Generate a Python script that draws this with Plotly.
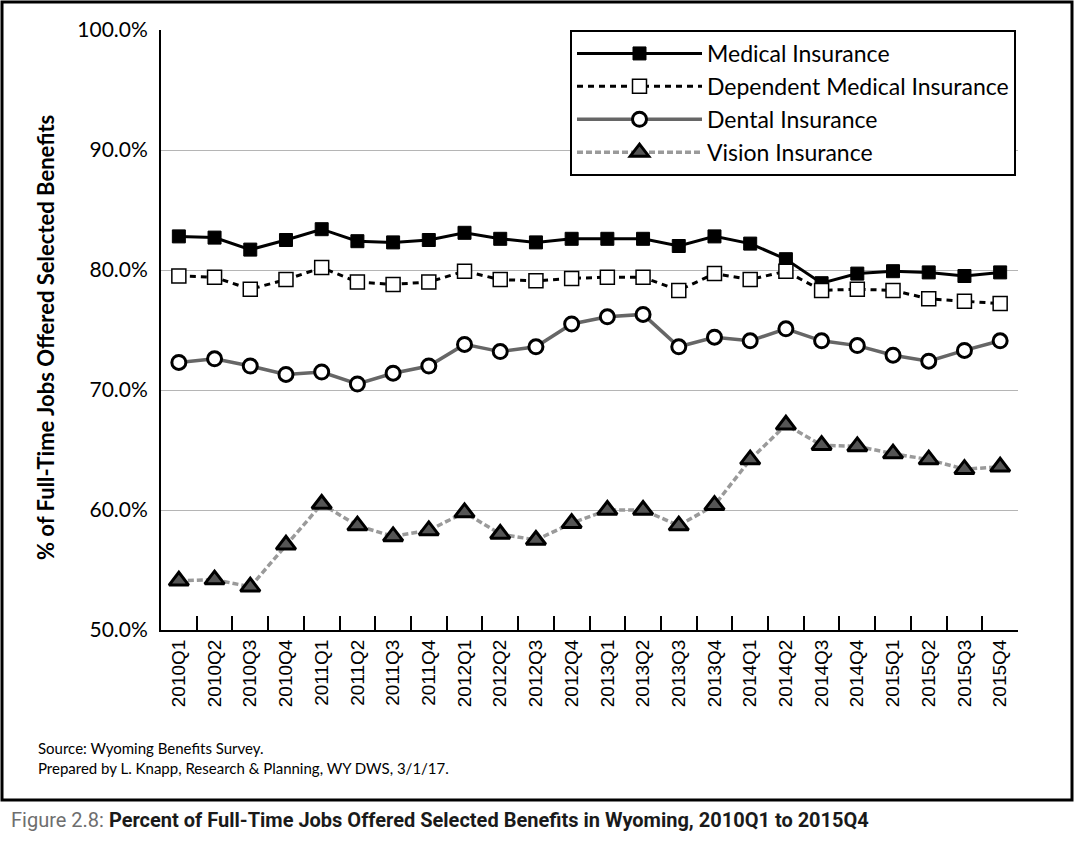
import plotly.graph_objects as go

quarters = ["2010Q1","2010Q2","2010Q3","2010Q4","2011Q1","2011Q2","2011Q3","2011Q4",
            "2012Q1","2012Q2","2012Q3","2012Q4","2013Q1","2013Q2","2013Q3","2013Q4",
            "2014Q1","2014Q2","2014Q3","2014Q4","2015Q1","2015Q2","2015Q3","2015Q4"]

medical = [82.8, 82.7, 81.7, 82.5, 83.4, 82.4, 82.3, 82.5, 83.1, 82.6, 82.3, 82.6,
           82.6, 82.6, 82.0, 82.8, 82.2, 80.9, 78.9, 79.7, 79.9, 79.8, 79.5, 79.8]
dependent = [79.5, 79.4, 78.4, 79.2, 80.2, 79.0, 78.8, 79.0, 79.9, 79.2, 79.1, 79.3,
             79.4, 79.4, 78.3, 79.7, 79.2, 79.9, 78.3, 78.4, 78.3, 77.6, 77.4, 77.2]
dental = [72.3, 72.6, 72.0, 71.3, 71.5, 70.5, 71.4, 72.0, 73.8, 73.2, 73.6, 75.5,
          76.1, 76.3, 73.6, 74.4, 74.1, 75.1, 74.1, 73.7, 72.9, 72.4, 73.3, 74.1]
vision = [54.1, 54.2, 53.6, 57.1, 60.5, 58.7, 57.8, 58.3, 59.8, 58.0, 57.5, 58.9,
          60.0, 60.0, 58.7, 60.4, 64.2, 67.1, 65.4, 65.3, 64.7, 64.2, 63.4, 63.6]

series_names = ["Medical Insurance", "Dependent Medical Insurance", "Dental Insurance", "Vision Insurance"]
y_ticks = [50, 60, 70, 80, 90, 100]

fig = go.Figure()
fig.add_trace(go.Scatter(
    x=quarters, y=medical, name=series_names[0], mode="lines+markers",
    line=dict(color="black", width=3),
    marker=dict(symbol="square", size=13, color="black", line=dict(color="black", width=1))))
fig.add_trace(go.Scatter(
    x=quarters, y=dependent, name=series_names[1], mode="lines+markers",
    line=dict(color="black", width=3, dash="6px,5px"),
    marker=dict(symbol="square", size=14, color="white", line=dict(color="black", width=1.5))))
fig.add_trace(go.Scatter(
    x=quarters, y=dental, name=series_names[2], mode="lines+markers",
    line=dict(color="#666666", width=3.5),
    marker=dict(symbol="circle", size=14, color="white", line=dict(color="black", width=3))))
fig.add_trace(go.Scatter(
    x=quarters, y=vision, name=series_names[3], mode="lines+markers",
    line=dict(color="#9a9a9a", width=3.5, dash="6px,3px"),
    marker=dict(symbol="triangle-up", size=17, color="#555555", line=dict(color="black", width=3))))

L, R, T, B = 161, 57, 30, 212
W, H = 1075, 842
pw, ph = W - L - R, H - T - B

def px(x):
    return (x - L) / pw

def py(y):
    return (H - B - y) / ph

fig.update_layout(
    width=W, height=H,
    margin=dict(l=L, r=R, t=T, b=B),
    paper_bgcolor="white", plot_bgcolor="white",
    font=dict(family="Lato, Open Sans, sans-serif", color="black"),
    showlegend=True,
    legend=dict(
        x=px(570), y=1.0, xanchor="left", yanchor="top",
        bgcolor="white", bordercolor="black", borderwidth=2,
        font=dict(family="Lato, sans-serif", size=23, color="black"),
        itemwidth=125, tracegroupgap=0,
    ),
    xaxis=dict(
        type="category", showgrid=False, showline=True, linecolor="black", linewidth=2,
        ticks="inside", ticklen=14, tickwidth=2, tickcolor="black", tickson="boundaries",
        tickangle=-90, tickfont=dict(family="Liberation Sans, Arial, sans-serif", size=19, color="black"),
        range=[-0.5, len(quarters) - 0.5],
    ),
    yaxis=dict(
        range=[50, 100], tickvals=y_ticks, ticktext=[f"{v:.1f}%" for v in y_ticks],
        showgrid=True, gridcolor="#b5b5b5", gridwidth=1,
        showline=True, linecolor="black", linewidth=2, ticks="",
        ticklabelstandoff=7,
        tickfont=dict(family="Lato, sans-serif", size=21, color="black"),
        zeroline=False,
    ),
    shapes=[dict(type="rect", xref="paper", yref="paper",
                 x0=px(2), x1=px(1072), y0=py(2), y1=py(800),
                 line=dict(color="black", width=3), fillcolor="rgba(0,0,0,0)", layer="below")],
    annotations=[
        dict(text="<b>% of Full-Time Jobs Offered Selected Benefits</b>", textangle=-90,
             xref="paper", yref="paper", x=px(45), y=py(338), showarrow=False,
             xanchor="center", yanchor="middle",
             font=dict(family="Lato, sans-serif", size=22, color="black")),
        dict(text="Source: Wyoming Benefits Survey.<br>Prepared by L. Knapp, Research &amp; Planning, WY DWS, 3/1/17.",
             xref="paper", yref="paper", x=px(36), y=py(758), showarrow=False,
             xanchor="left", yanchor="middle", align="left",
             font=dict(family="Lato, sans-serif", size=15, color="black")),
        dict(text="<span style='color:#6e6e6e'>Figure 2.8:</span> <b>Percent of Full-Time Jobs Offered Selected Benefits in Wyoming, 2010Q1 to 2015Q4</b>",
             xref="paper", yref="paper", x=px(9), y=py(820), showarrow=False,
             xanchor="left", yanchor="middle", align="left",
             font=dict(family="Roboto, sans-serif", size=20, color="#1a1a1a")),
    ],
)

fig.write_html("out.html", config={"displayModeBar": False},
               post_script="document.body.style.margin='0px';")
